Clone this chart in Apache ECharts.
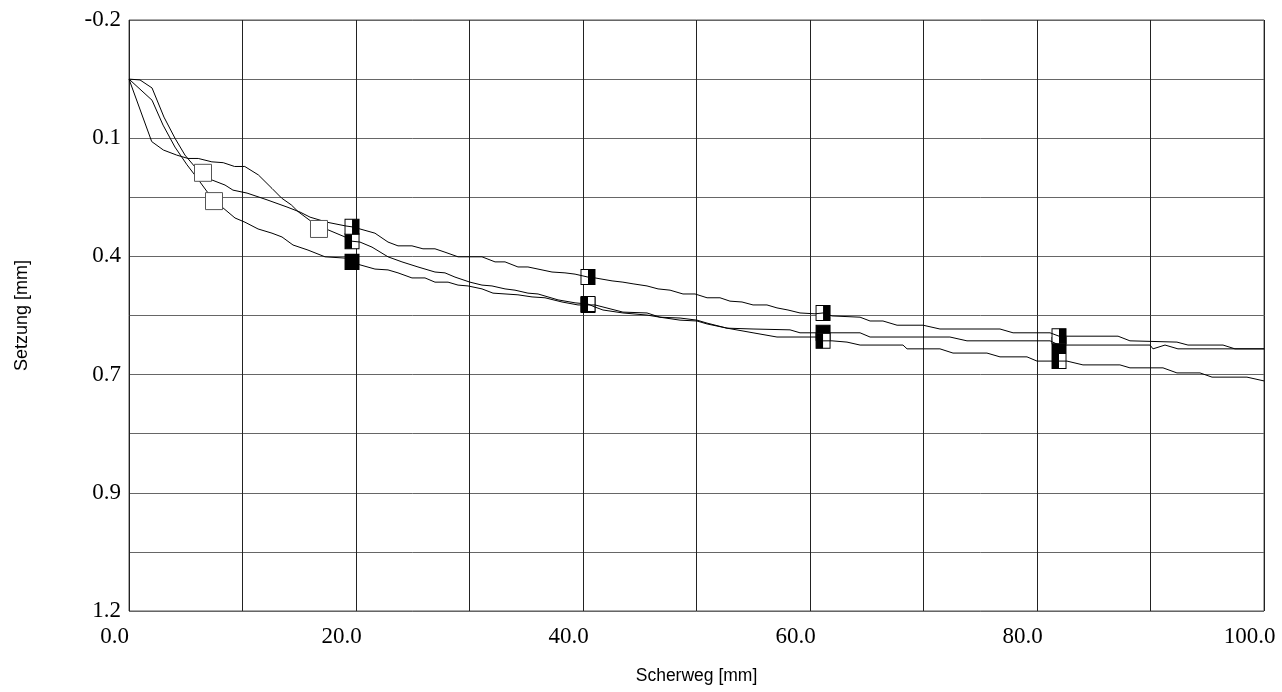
<!DOCTYPE html>
<html>
<head>
<meta charset="utf-8">
<script src="https://cdn.jsdelivr.net/npm/echarts@6/dist/echarts.min.js"></script>
<style>
  html, body { margin: 0; padding: 0; background: #fff; }
  #chart { width: 1282px; height: 692px; }
</style>
</head>
<body>
<div id="chart"></div>
<script>
// Scherweg [mm] / Setzung [mm]
const curveA = [
  [0, -0.06], [2.0, 0.088], [3.03, 0.108], [4.2, 0.12], [5.2, 0.128], [6.1, 0.128],
  [7.3, 0.136], [8.3, 0.138], [9.3, 0.147], [10.2, 0.147], [11.4, 0.167], [12.6, 0.199],
  [13.45, 0.222], [14.3, 0.238], [14.9, 0.254], [15.95, 0.275], [16.74, 0.295], [17.53, 0.297],
  [19.21, 0.316], [19.65, 0.324], [20.35, 0.326], [21.41, 0.338], [22.82, 0.361], [24.05, 0.373],
  [25.46, 0.385], [26.96, 0.397], [27.84, 0.399], [28.72, 0.409], [30.04, 0.421], [31.1, 0.428],
  [31.98, 0.43], [33.13, 0.437], [34.01, 0.44], [35.15, 0.447], [36.04, 0.449], [37.8, 0.463],
  [39.3, 0.47], [40.44, 0.473], [41.06, 0.48], [41.76, 0.487], [43.52, 0.494], [45.64, 0.499],
  [46.78, 0.504], [48.55, 0.506], [50.04, 0.511], [50.93, 0.518], [52.69, 0.53], [54.98, 0.541],
  [57.09, 0.551], [60.62, 0.551], [61.15, 0.56], [61.94, 0.56], [63.26, 0.563], [64.41, 0.57],
  [68.19, 0.57], [68.55, 0.579], [71.45, 0.579], [72.6, 0.589], [75.59, 0.589], [76.74, 0.598],
  [79.12, 0.598], [80.0, 0.608], [82.64, 0.608], [84.05, 0.617], [87.31, 0.617], [88.19, 0.624],
  [91.1, 0.624], [92.33, 0.636], [94.36, 0.636], [95.42, 0.646], [98.5, 0.646], [100, 0.655]
];
const curveB = [
  [0, -0.06], [0.97, -0.058], [2.03, -0.039], [3.08, 0.03], [4.05, 0.08], [4.93, 0.12],
  [5.81, 0.148], [6.52, 0.162], [7.31, 0.179], [8.46, 0.191], [9.16, 0.203], [10.4, 0.21],
  [12.16, 0.226], [13.92, 0.243], [15.07, 0.255], [15.95, 0.267], [17.44, 0.279], [19.12, 0.288],
  [19.65, 0.29], [20.35, 0.295], [21.67, 0.305], [22.82, 0.326], [23.7, 0.335], [24.93, 0.335],
  [25.9, 0.342], [26.96, 0.342], [27.84, 0.35], [28.99, 0.361], [31.1, 0.361], [32.25, 0.373],
  [33.13, 0.373], [34.27, 0.385], [35.15, 0.385], [36.39, 0.392], [37.27, 0.397], [38.41, 0.399],
  [39.3, 0.402], [40.44, 0.409], [41.06, 0.411], [42.56, 0.418], [43.52, 0.421], [44.41, 0.425],
  [45.64, 0.43], [46.61, 0.437], [47.67, 0.44], [48.81, 0.449], [49.87, 0.449], [50.93, 0.458],
  [52.07, 0.458], [52.95, 0.466], [54.01, 0.468], [54.98, 0.475], [56.21, 0.475], [57.09, 0.482],
  [58.06, 0.487], [59.12, 0.494], [60.44, 0.496], [61.15, 0.494], [61.94, 0.501], [64.41, 0.504],
  [65.29, 0.513], [66.43, 0.513], [67.67, 0.523], [69.96, 0.523], [71.45, 0.532], [76.74, 0.532],
  [77.89, 0.541], [81.15, 0.541], [81.94, 0.549], [87.14, 0.549], [88.19, 0.56], [92.33, 0.563],
  [93.3, 0.57], [96.39, 0.57], [97.44, 0.579], [100, 0.579]
];
const curveC = [
  [0, -0.06], [2.03, -0.01], [3.0, 0.049], [4.05, 0.101], [5.11, 0.143], [5.99, 0.174],
  [7.49, 0.229], [8.28, 0.245], [9.34, 0.269], [10.22, 0.279], [11.37, 0.295], [12.6, 0.305],
  [13.48, 0.314], [14.45, 0.333], [15.77, 0.345], [17.27, 0.361], [19.03, 0.364], [19.65, 0.373],
  [20.35, 0.38], [21.67, 0.39], [22.82, 0.392], [23.7, 0.399], [24.93, 0.411], [26.08, 0.411],
  [26.96, 0.421], [28.11, 0.421], [28.99, 0.428], [29.87, 0.43], [31.1, 0.437], [32.07, 0.447],
  [34.27, 0.451], [35.51, 0.456], [36.65, 0.458], [38.15, 0.468], [39.56, 0.475], [40.44, 0.475],
  [41.06, 0.475], [43.52, 0.492], [45.64, 0.494], [46.78, 0.504], [48.55, 0.511], [50.04, 0.513],
  [50.93, 0.52], [52.69, 0.53], [54.98, 0.532], [58.24, 0.534], [59.12, 0.541], [61.15, 0.541],
  [64.41, 0.541], [65.29, 0.551], [72.33, 0.551], [73.83, 0.56], [81.15, 0.56], [81.94, 0.57],
  [89.96, 0.57], [90.22, 0.579], [91.28, 0.57], [92.42, 0.579], [100, 0.579]
];

// first point of each test (open squares)
const openA = [[16.74, 0.295]];
const openB = [[6.52, 0.162]];
const openC = [[7.49, 0.229]];

// later load steps
const stepsA = [[19.65, 0.324], [40.44, 0.473], [61.15, 0.56], [81.94, 0.608]];
const stepsB = [[19.65, 0.29], [40.44, 0.409], [61.15, 0.494], [81.94, 0.549]];
const stepsC = [[19.65, 0.373], [40.44, 0.475], [61.15, 0.541], [81.94, 0.57]];

const xTickLabels = ['0.0', '', '20.0', '', '40.0', '', '60.0', '', '80.0', '', '100.0'];
const yTickLabels = ['-0.2', '', '0.1', '', '0.4', '', '0.7', '', '0.9', '', '1.2'];

const serif = 'Liberation Serif, Times New Roman, serif';
const sans = 'Liberation Sans, Arial, sans-serif';

function lineSeries(data) {
  return {
    type: 'line', data, z: 3, symbol: 'none', silent: true,
    lineStyle: { color: '#000', width: 1 }
  };
}
function boxSeries(data, fill) {
  return {
    type: 'scatter', data, z: 2, symbol: 'rect', symbolSize: [14, 15], silent: true,
    itemStyle: { color: fill, borderColor: '#000', borderWidth: 1, opacity: 1 }
  };
}
function halfSeries(data, dx) {
  return {
    type: 'scatter', data, z: 2, symbol: 'rect', symbolSize: [7, 15], symbolOffset: [dx, 0],
    silent: true, itemStyle: { color: '#000', opacity: 1 }
  };
}
function openSeries(data) {
  return {
    type: 'scatter', data, z: 4, symbol: 'rect', symbolSize: 17, silent: true,
    itemStyle: { color: '#fff', borderColor: '#555', borderWidth: 1, opacity: 1 }
  };
}

const chart = echarts.init(document.getElementById('chart'));
chart.setOption({
  animation: false,
  backgroundColor: '#fff',
  grid: {
    left: 129, right: 18, top: 20, bottom: 81,
    show: true, borderColor: '#555', borderWidth: 1,
    outerBoundsMode: 'none'
  },
  xAxis: {
    type: 'value', min: 0, max: 100, interval: 10,
    name: 'Scherweg [mm]', nameLocation: 'middle', nameGap: 56,
    nameTextStyle: { fontFamily: sans, fontSize: 17.5, color: '#000' },
    axisLine: { show: false },
    axisTick: { show: false },
    axisLabel: {
      fontFamily: serif, fontSize: 23, color: '#000', margin: 14,
      padding: [0, 29, 0, 0],
      formatter: (v) => xTickLabels[Math.round(v / 10)] || ''
    },
    splitLine: { show: true, lineStyle: { color: '#222', width: 1 } }
  },
  yAxis: [
    {
      type: 'value', min: -0.2, max: 1.2, inverse: true, position: 'left', show: false
    },
    {
      type: 'value', min: 0, max: 1.4, interval: 0.14, inverse: true, position: 'left',
      name: 'Setzung [mm]', nameLocation: 'middle', nameGap: 98, nameRotate: 90,
      nameTextStyle: { fontFamily: sans, fontSize: 18, color: '#000' },
      axisLine: { show: false },
      axisTick: { show: false },
      axisLabel: {
        fontFamily: serif, fontSize: 23, color: '#000', margin: 8,
        formatter: (v) => yTickLabels[Math.round(v / 0.14)] || ''
      },
      splitLine: { show: true, lineStyle: { color: '#666', width: 1 } }
    }
  ],
  series: [
    boxSeries(stepsC, '#000'),
    boxSeries(stepsA, '#fff'),
    halfSeries(stepsA, -3.5),
    boxSeries(stepsB, '#fff'),
    halfSeries(stepsB, 3.5),
    lineSeries(curveC),
    lineSeries(curveA),
    lineSeries(curveB),
    openSeries(openA),
    openSeries(openB),
    openSeries(openC)
  ]
});
</script>
</body>
</html>
